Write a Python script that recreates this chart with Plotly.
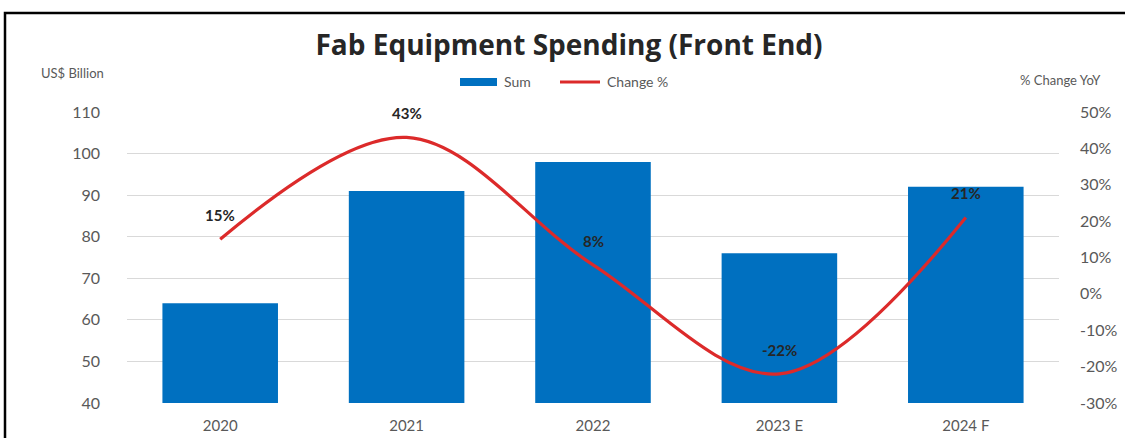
import plotly.graph_objects as go

categories = ["2020", "2021", "2022", "2023 E", "2024 F"]
spend = [64, 91, 98, 76, 92]
change_pct = [15, 43, 8, -22, 21]
change_labels = ["15%", "43%", "8%", "-22%", "21%"]
left_ticks = [40, 50, 60, 70, 80, 90, 100, 110]
right_ticks = [-30, -20, -10, 0, 10, 20, 30, 40, 50]
right_tick_labels = ["-30%", "-20%", "-10%", "0%", "10%", "20%", "30%", "40%", "50%"]

W, H = 1125, 438
L, R, T, B = 127, 1059, 112, 403
FONT = "Lato"
GRAY = "#595959"
BLUE = "#0070C0"
RED = "#DC2A2A"

fig = go.Figure()
fig.add_trace(go.Bar(
    x=categories, y=spend, name="Sum",
    marker=dict(color=BLUE, line=dict(width=0)),
    width=0.62, showlegend=False,
))
fig.add_trace(go.Scatter(
    x=categories, y=change_pct, name="Change %", yaxis="y2",
    mode="lines", line=dict(color=RED, width=3.2, shape="spline", smoothing=1.0),
    showlegend=False,
))

for i, (v, t) in enumerate(zip(change_pct, change_labels)):
    fig.add_annotation(x=i, y=v, xref="x", yref="y2", text="<b>%s</b>" % t, showarrow=False,
                       yshift=24, font=dict(family=FONT, size=15, color="#262626"))

def px_to_paper_x(px):
    return (px - L) / (R - L)

def px_to_paper_y(py):
    return (B - py) / (B - T)

# border box
fig.add_shape(type="rect", xref="paper", yref="paper",
              x0=px_to_paper_x(5), x1=px_to_paper_x(1135),
              y0=px_to_paper_y(450), y1=px_to_paper_y(13),
              line=dict(color="#000000", width=2.5), fillcolor="rgba(0,0,0,0)", layer="below")

# custom legend
fig.add_shape(type="rect", xref="paper", yref="paper",
              x0=px_to_paper_x(460), x1=px_to_paper_x(497),
              y0=px_to_paper_y(86), y1=px_to_paper_y(78),
              line=dict(width=0), fillcolor=BLUE)
fig.add_annotation(xref="paper", yref="paper", x=px_to_paper_x(502), y=px_to_paper_y(82),
                   xanchor="left", yanchor="middle", text="Sum", showarrow=False,
                   font=dict(family=FONT, size=14, color=GRAY))
fig.add_shape(type="line", xref="paper", yref="paper",
              x0=px_to_paper_x(560), x1=px_to_paper_x(600),
              y0=px_to_paper_y(82), y1=px_to_paper_y(82),
              line=dict(color=RED, width=3))
fig.add_annotation(xref="paper", yref="paper", x=px_to_paper_x(605), y=px_to_paper_y(82),
                   xanchor="left", yanchor="middle", text="Change %", showarrow=False,
                   font=dict(family=FONT, size=14, color=GRAY))

fig.add_annotation(xref="paper", yref="paper", x=px_to_paper_x(72), y=px_to_paper_y(73),
                   xanchor="center", yanchor="middle",
                   text="US$ Billion", showarrow=False,
                   font=dict(family=FONT, size=13, color=GRAY))
fig.add_annotation(xref="paper", yref="paper", x=px_to_paper_x(1060), y=px_to_paper_y(80),
                   xanchor="center", yanchor="middle",
                   text="% Change YoY", showarrow=False,
                   font=dict(family=FONT, size=13, color=GRAY))

fig.update_layout(
    width=W, height=H,
    margin=dict(l=L, r=W - R, t=T, b=H - B, autoexpand=False),
    paper_bgcolor="white", plot_bgcolor="white",
    title=dict(text="<b>Fab Equipment Spending (Front End)</b>", x=0.5 * (303 + 835) / W, xanchor="center",
               y=1 - 45 / H, yanchor="middle",
               font=dict(family="Open Sans", size=28, color="#262626")),
    font=dict(family=FONT, color=GRAY),
    showlegend=False,
    bargap=0.38,
    xaxis=dict(type="category", range=[-0.5, len(categories) - 0.5],
               tickfont=dict(family=FONT, size=15, color=GRAY), showgrid=False,
               showline=False, ticks="", ticklabelstandoff=12),
    yaxis=dict(range=[40, 110], tickvals=left_ticks, showgrid=True, gridcolor="#D9D9D9",
               gridwidth=1, zeroline=False, showline=False,
               tickfont=dict(family=FONT, size=16, color=GRAY), ticklabelstandoff=26),
    yaxis2=dict(range=[-30, 50], tickvals=right_ticks, ticktext=right_tick_labels,
                overlaying="y", side="right", showgrid=False, zeroline=False, showline=False,
                tickfont=dict(family=FONT, size=16, color=GRAY), ticklabelstandoff=20),
)

fig.write_html("out.html")
